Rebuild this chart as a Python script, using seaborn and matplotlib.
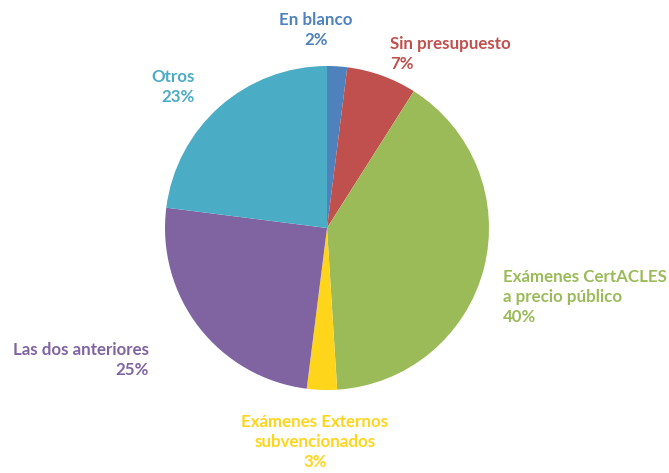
import matplotlib
matplotlib.use('Agg')
import matplotlib.pyplot as plt
import seaborn as sns

# Data
categories = ['En blanco', 'Sin presupuesto', 'Exámenes CertACLES\na precio público',
              'Exámenes Externos\nsubvencionados', 'Las dos anteriores', 'Otros']
values = [2, 7, 40, 3, 25, 23]
colors = ['#4F81BD', '#C0504D', '#9BBB59', '#FFD51C', '#8064A2', '#4BACC6']

# label placement in pixel coords (x, y from top, ha)
label_pos = [(316, 30, 'center'), (390, 54, 'left'), (503, 297, 'left'),
             (315, 442, 'center'), (149, 360, 'right'), (195, 87, 'right')]

sns.set_theme(style='white')
plt.rcParams['font.family'] = ['Lato', 'DejaVu Sans']

W, H = 669, 473
fig = plt.figure(figsize=(W / 100, H / 100), dpi=100)
ax = fig.add_axes([0, 0, 1, 1])

ax.pie(values, colors=sns.color_palette(colors), startangle=90, counterclock=False,
       radius=162, center=(327, H - 228), frame=True,
       wedgeprops=dict(linewidth=0))
ax.set_xlim(0, W)
ax.set_ylim(0, H)
ax.axis('off')

for cat, v, c, (x, y, ha) in zip(categories, values, colors, label_pos):
    ax.text(x, H - y, f'{cat}\n{v}%', color=c, ha=ha, va='center',
            fontsize=12.2, fontweight='bold', linespacing=1.3,
            multialignment=ha)

fig.savefig('out.png', dpi=100, facecolor='white')
